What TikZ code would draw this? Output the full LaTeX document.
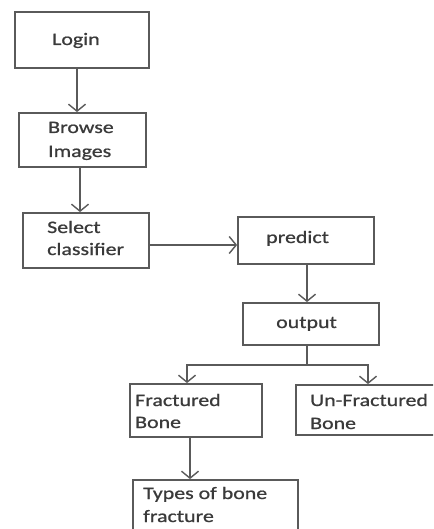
\documentclass[tikz,border=0pt]{standalone}
\usepackage{fontspec}
\setmainfont{Carlito}[FakeStretch=1.25,FakeBold=0.8]
\usetikzlibrary{arrows.meta}
\definecolor{edge}{HTML}{5A5A5A}
\definecolor{ink}{HTML}{3A3A3A}
\tikzset{
  box/.style={draw=edge, line width=1.8pt, inner sep=0pt, rectangle},
  lbl/.style={anchor=base west, inner sep=0pt, text=ink, font=\fontsize{17.5}{22}\selectfont},
  arr/.style={draw=edge, line width=1.4pt, -{Straight Barb[length=7pt,width=17pt,line width=1.4pt]}},
  ln/.style={draw=edge, line width=1.4pt}
}
\begin{document}
\begin{tikzpicture}[x=1pt,y=-1pt]
\clip (0,0) rectangle (433,529);
\useasboundingbox (0,0) rectangle (433,529);
\fill[white] (0,0) rectangle (433,529);
% boxes
\node[box, minimum width=134pt, minimum height=56pt] (login) at (82,40) {};
\node[box, minimum width=127pt, minimum height=54pt] (browse) at (82.5,140) {};
\node[box, minimum width=126pt, minimum height=55pt] (select) at (86,240.5) {};
\node[box, minimum width=136pt, minimum height=47pt] (predict) at (306,240.5) {};
\node[box, minimum width=136pt, minimum height=42pt] (output) at (311,324) {};
\node[box, minimum width=132pt, minimum height=53pt] (frac) at (196,410.5) {};
\node[box, minimum width=149pt, minimum height=50pt] (unfrac) at (370.5,410) {};
\node[box, minimum width=165pt, minimum height=60pt] (types) at (215.5,510) {};
% labels
\node[lbl] (t-login) at (52,45) {Login};
\node[lbl] (t-browse1) at (48,133) {Browse};
\node[lbl] (t-browse2) at (48,157) {Images};
\node[lbl] (t-select1) at (47,233) {Select};
\node[lbl] (t-select2) at (47,255) {classifier};
\node[lbl] (t-predict) at (266,243) {predict};
\node[lbl] (t-output) at (276,328) {output};
\node[lbl] (t-frac1) at (135,406) {Fractured};
\node[lbl] (t-frac2) at (135,428) {Bone};
\node[lbl] (t-unfrac1) at (310,406) {Un-Fractured};
\node[lbl] (t-unfrac2) at (310,429) {Bone};
\node[lbl] (t-types1) at (143,499) {Types of bone};
\node[lbl] (t-types2) at (143,522) {fracture};
% connectors
\draw[arr] ([xshift=-5pt]login.south) -- ([xshift=-5pt]login.south |- browse.north);
\draw[arr] ([xshift=-2.5pt]browse.south) -- ([xshift=-2.5pt]browse.south |- select.north);
\draw[arr] ([yshift=-4.5pt]select.east) -- ([yshift=-4.5pt]select.east -| predict.west);
\draw[arr] ([xshift=1pt]predict.south) -- ([xshift=1pt]predict.south |- output.north);
\coordinate (split) at ([xshift=-4pt]output.south |- 0,365);
\draw[ln] ([xshift=-4pt]output.south) -- (split);
\draw[arr] (split) -| ([xshift=-9pt]frac.north);
\draw[arr] (split) -| ([xshift=-2.5pt]unfrac.north);
\draw[arr] ([xshift=-6pt]frac.south) -- ([xshift=-6pt]frac.south |- types.north);
\end{tikzpicture}
\end{document}
